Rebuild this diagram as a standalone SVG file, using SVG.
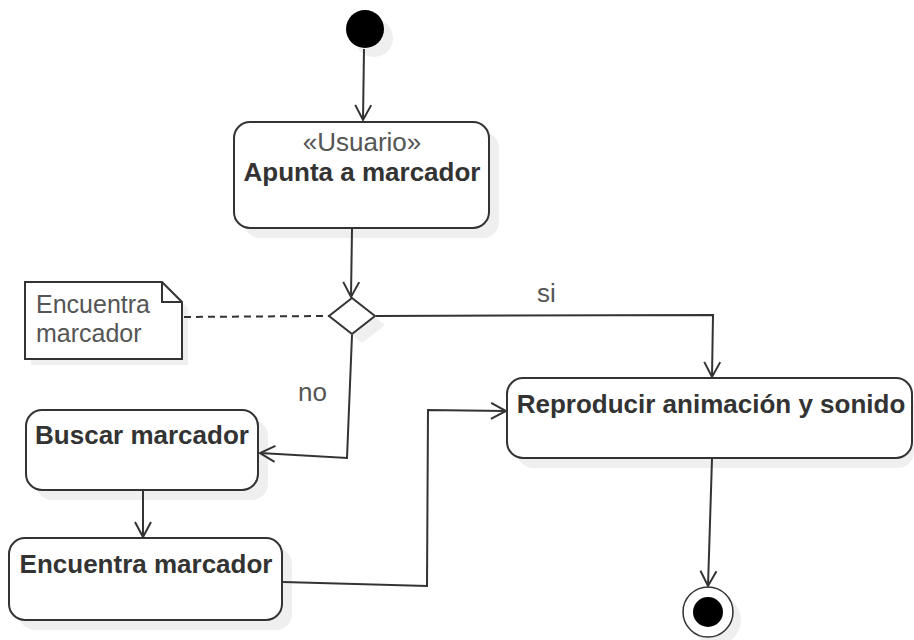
<svg xmlns="http://www.w3.org/2000/svg" width="914" height="640" viewBox="0 0 914 640">
<style>
.shadow{fill:#efefef;stroke:none}
.box{fill:#ffffff;stroke:#333333;stroke-width:2}
.bold{font-family:"Liberation Sans",Arial,sans-serif;font-size:26px;font-weight:bold;fill:#333333;text-anchor:middle}
.reg{font-family:"Liberation Sans",Arial,sans-serif;font-size:26px;fill:#555555}
.note{font-family:"Liberation Sans",Arial,sans-serif;font-size:25px;fill:#555555}
.edge{fill:none;stroke:#333333;stroke-width:2}
</style>
<defs>
<marker id="arr" markerUnits="userSpaceOnUse" markerWidth="20" markerHeight="20" viewBox="-16 -10 20 20" refX="0" refY="0" orient="auto">
<path d="M-15 -8 L0 0 L-15 8" fill="none" stroke="#333333" stroke-width="2"/>
</marker>
</defs>
<rect width="914" height="640" fill="#ffffff"/>

<g id="start">
<circle class="shadow" cx="374" cy="38" r="19"/>
<circle cx="365" cy="29" r="19" fill="#000000"/>
</g>

<g id="apunta">
<rect class="shadow" x="244" y="132" width="255" height="106" rx="16"/>
<rect class="box" x="234" y="122" width="255" height="106" rx="16"/>
<text x="362" y="151" class="reg" text-anchor="middle" fill="#666666">«Usuario»</text>
<text x="362" y="181" class="bold">Apunta a marcador</text>
</g>

<g id="decision">
<polygon class="shadow" points="362,307 385,325 362,343 339,325"/>
<polygon class="box" points="352,298 375,316 352,334 329,316"/>
</g>

<g id="note">
<path class="shadow" d="M31 288 H168 L188 308 V365 H31 Z"/>
<path class="box" d="M25 282 H162 L182 302 V359 H25 Z"/>
<path d="M162 282 V302 H182" fill="none" stroke="#333333" stroke-width="2"/>
<text class="note" x="36" y="313">Encuentra</text>
<text class="note" x="36" y="342">marcador</text>
</g>

<g id="buscar">
<rect class="shadow" x="36" y="420" width="232" height="80" rx="16"/>
<rect class="box" x="26" y="410" width="232" height="80" rx="16"/>
<text x="142" y="444" class="bold">Buscar marcador</text>
</g>

<g id="encuentra">
<rect class="shadow" x="19" y="548" width="273" height="82" rx="16"/>
<rect class="box" x="9" y="538" width="273" height="82" rx="16"/>
<text x="146" y="573" class="bold">Encuentra marcador</text>
</g>

<g id="reproducir">
<rect class="shadow" x="517" y="388" width="397" height="80" rx="16"/>
<rect class="box" x="507" y="378" width="405" height="80" rx="16"/>
<text x="711" y="413" class="bold">Reproducir animación y sonido</text>
</g>

<g id="end">
<circle class="shadow" cx="716" cy="620" r="25"/>
<circle cx="708" cy="612" r="25" fill="#ffffff" stroke="#333333" stroke-width="1.5"/>
<circle cx="708" cy="612" r="15" fill="#000000"/>
</g>

<g id="connectors">
<path class="edge" d="M364 49 L363 120" marker-end="url(#arr)"/>
<path class="edge" d="M352 229 L351 297" marker-end="url(#arr)"/>
<path class="edge" d="M376 316 L713 315 L712 377" marker-end="url(#arr)"/>
<path class="edge" d="M352 335 L347 458 L260 453" marker-end="url(#arr)"/>
<path class="edge" d="M143 491 L143 537" marker-end="url(#arr)"/>
<path class="edge" d="M283 582 L427 586 L428 410 L506 411" marker-end="url(#arr)"/>
<path class="edge" d="M712 459 L708 586" marker-end="url(#arr)"/>
<path d="M184 317 L329 316" fill="none" stroke="#333333" stroke-width="2" stroke-dasharray="7 5"/>
<text x="537" y="302" class="reg">si</text>
<text x="298" y="401" class="reg">no</text>
</g>
</svg>
